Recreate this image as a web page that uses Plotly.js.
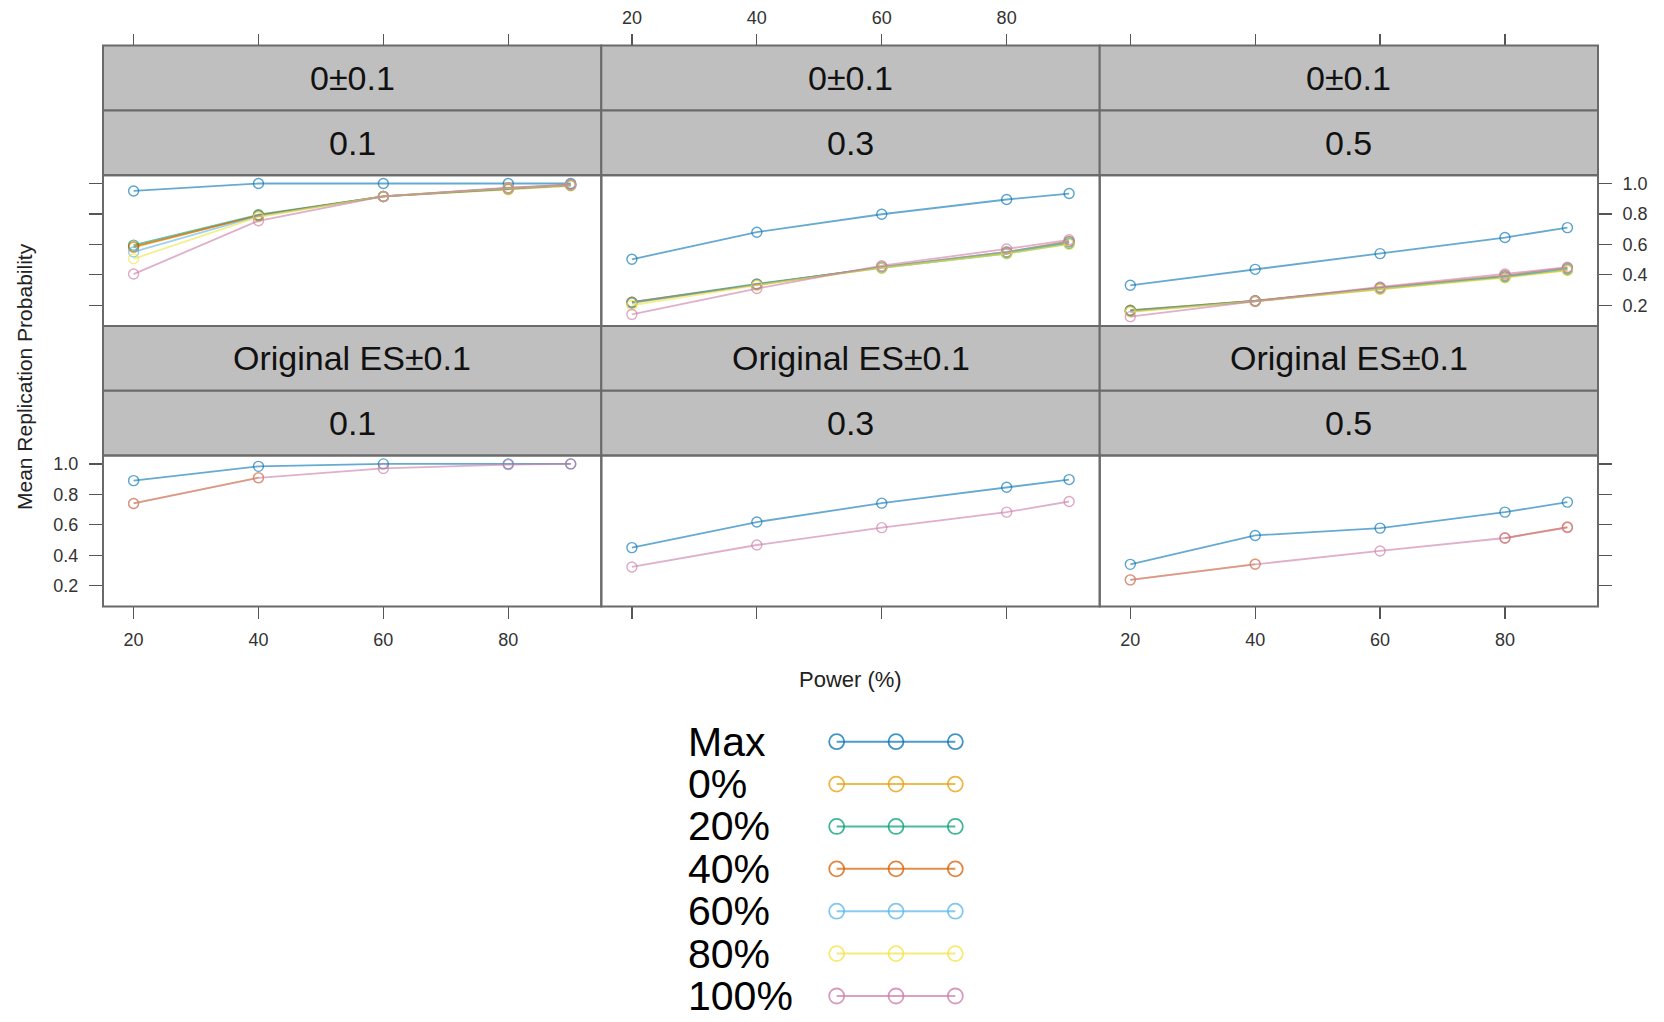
<!DOCTYPE html>
<html>
<head>
<meta charset="utf-8">
<script src="https://cdn.plot.ly/plotly-3.0.1.min.js"></script>
<style>html,body{margin:0;padding:0;background:#fff;}#chart{width:1664px;height:1022px;}</style>
</head>
<body>
<div id="chart"></div>
<script>
// ---------------- data ----------------
const power = [20, 40, 60, 80, 90];
const seriesNames = ['Max', '0%', '20%', '40%', '60%', '80%', '100%'];
const seriesColors = ['#0072B2', '#E69F00', '#009E73', '#D55E00', '#56B4E9', '#F0E442', '#CC79A7'];
const rowLabels = ['0\u00B10.1', 'Original ES\u00B10.1'];
const colLabels = ['0.1', '0.3', '0.5'];
const xTickVals = [20, 40, 60, 80];
const xTickText = ['20', '40', '60', '80'];
const yTickVals = [0.2, 0.4, 0.6, 0.8, 1.0];
const yTickText = ['0.2', '0.4', '0.6', '0.8', '1.0'];
const legendKeyX = [0, 1, 2];

// rows: Max, 0%, 20%, 40%, 60%, 80%, 100%  (null = not visible in the picture)
const zero_01 = [
  [0.951, 1.000, 1.000, 1.000, 1.000],
  [0.580, 0.790, 0.915, 0.960, 0.985],
  [0.595, 0.795, 0.915, 0.967, 0.990],
  [0.585, 0.790, 0.915, 0.970, 0.992],
  [0.550, 0.785, 0.915, 0.970, 0.990],
  [0.505, 0.780, 0.915, 0.970, 0.990],
  [0.405, 0.755, 0.915, 0.972, 0.992]
];
const zero_03 = [
  [0.502, 0.680, 0.798, 0.895, 0.934],
  [0.215, 0.335, 0.450, 0.545, 0.615],
  [0.220, 0.340, 0.445, 0.540, 0.605],
  [0.220, 0.337, 0.450, 0.550, 0.620],
  [0.215, 0.335, 0.450, 0.550, 0.615],
  [0.200, 0.330, 0.445, 0.540, 0.600],
  [0.140, 0.310, 0.460, 0.570, 0.630]
];
const zero_05 = [
  [0.331, 0.436, 0.539, 0.645, 0.710],
  [0.160, 0.228, 0.305, 0.385, 0.430],
  [0.167, 0.228, 0.310, 0.385, 0.435],
  [0.165, 0.230, 0.315, 0.395, 0.445],
  [0.160, 0.228, 0.310, 0.390, 0.440],
  [0.155, 0.225, 0.305, 0.380, 0.430],
  [0.125, 0.225, 0.320, 0.405, 0.450]
];
const orig_01 = [
  [0.890, 0.984, 1.000, 1.000, 1.000],
  [0.740, 0.910, null, null, null],
  [null, null, null, null, null],
  [null, null, null, null, null],
  [null, null, null, null, null],
  [null, null, null, null, null],
  [0.740, 0.908, 0.970, 0.995, 1.000]
];
const orig_03 = [
  [0.450, 0.618, 0.742, 0.847, 0.897],
  [null, null, null, null, null],
  [null, null, null, null, null],
  [null, null, null, null, null],
  [null, null, null, null, null],
  [null, null, null, null, null],
  [0.323, 0.467, 0.581, 0.683, 0.753]
];
const orig_05 = [
  [0.340, 0.530, 0.578, 0.683, 0.749],
  [0.238, 0.342, null, null, null],
  [null, null, null, null, null],
  [null, null, null, 0.513, 0.585],
  [null, null, null, null, null],
  [null, null, null, null, null],
  [0.238, 0.340, 0.428, 0.513, 0.581]
];
const panels = [zero_01, zero_03, zero_05, orig_01, orig_03, orig_05];

// ---------------- geometry (pixels) ----------------
const W = 1664, H = 1022;
const px = p => p / W;
const py = p => 1 - p / H;
const colX = [103, 601.3, 1099.7, 1598];
const T = 45.6, S = 64.8, P = 150.8;
const FONT = 'Liberation Sans, Arial, Helvetica, sans-serif';
const AXC = '#555555';
const BORDER = '#6a6a6a';

function rgba(hex, a) {
  const n = parseInt(hex.slice(1), 16);
  return 'rgba(' + ((n >> 16) & 255) + ',' + ((n >> 8) & 255) + ',' + (n & 255) + ',' + a + ')';
}

const traces = [];
const layout = {
  width: W, height: H,
  margin: {l: 0, r: 0, t: 0, b: 0, pad: 0},
  paper_bgcolor: '#ffffff', plot_bgcolor: 'rgba(0,0,0,0)',
  showlegend: false,
  font: {family: FONT, color: '#333333', size: 18},
  shapes: [], annotations: []
};

panels.forEach((data, i) => {
  const r = Math.floor(i / 3), c = i % 3, k = i + 1;
  const top = T + r * (2 * S + P);
  const pTop = top + 2 * S, pBot = pTop + P;
  const xa = {
    domain: [px(colX[c]), px(colX[c + 1])],
    range: [15.1, 94.9],
    tickvals: xTickVals, ticktext: xTickText,
    ticks: 'outside', ticklen: 12, tickwidth: 1.3, tickcolor: AXC,
    showgrid: false, zeroline: false, showline: false, fixedrange: true,
    tickfont: {family: FONT, size: 18, color: '#333333'}
  };
  if (r === 0) {
    Object.assign(xa, {side: 'top', anchor: 'free', position: py(T),
      showticklabels: c === 1, ticklabelstandoff: 2});
  } else {
    Object.assign(xa, {side: 'bottom', anchor: 'y' + k,
      showticklabels: c !== 1, ticklabelstandoff: 5});
  }
  const ya = {
    domain: [py(pBot), py(pTop)],
    range: [0.0636, 1.0546],
    anchor: 'x' + k,
    tickvals: yTickVals, ticktext: yTickText,
    showgrid: false, zeroline: false, showline: false, fixedrange: true,
    tickfont: {family: FONT, size: 18, color: '#333333'}
  };
  if (c === 0) {
    Object.assign(ya, {side: 'left', ticks: 'outside', ticklen: 13, tickwidth: 1.3,
      tickcolor: AXC, showticklabels: r === 1, ticklabelstandoff: 7});
  } else if (c === 2) {
    Object.assign(ya, {side: 'right', ticks: 'outside', ticklen: 13, tickwidth: 1.3,
      tickcolor: AXC, showticklabels: r === 0, ticklabelstandoff: 7});
  } else {
    Object.assign(ya, {ticks: '', showticklabels: false});
  }
  layout['xaxis' + k] = xa;
  layout['yaxis' + k] = ya;

  // strips
  [[top, top + S, rowLabels[r]], [top + S, top + 2 * S, colLabels[c]]].forEach(st => {
    layout.shapes.push({type: 'rect', xref: 'paper', yref: 'paper',
      x0: px(colX[c]), x1: px(colX[c + 1]), y0: py(st[1]), y1: py(st[0]),
      fillcolor: '#bfbfbf', line: {color: BORDER, width: 2}, layer: 'above'});
    layout.annotations.push({xref: 'paper', yref: 'paper',
      x: px((colX[c] + colX[c + 1]) / 2), y: py((st[0] + st[1]) / 2),
      xanchor: 'center', yanchor: 'middle', showarrow: false, text: st[2],
      font: {family: FONT, size: 34, color: '#111111'}});
  });
  // panel border
  layout.shapes.push({type: 'rect', xref: 'paper', yref: 'paper',
    x0: px(colX[c]), x1: px(colX[c + 1]), y0: py(pBot), y1: py(pTop),
    fillcolor: 'rgba(0,0,0,0)', line: {color: BORDER, width: 2}, layer: 'above'});

  data.forEach((vals, s) => {
    if (vals.every(v => v === null)) return;
    traces.push({
      type: 'scatter', mode: 'lines+markers', name: seriesNames[s],
      x: power, y: vals, xaxis: 'x' + k, yaxis: 'y' + k,
      line: {color: rgba(seriesColors[s], 0.6), width: 1.8},
      marker: {symbol: 'circle-open', size: 10,
        color: rgba(seriesColors[s], 0.65), line: {width: 1.4, color: rgba(seriesColors[s], 0.65)}},
      cliponaxis: false, hoverinfo: 'name+x+y'
    });
  });
});

// ---------------- key (legend) ----------------
const keyTop = 741.7, keyStep = 42.38;
layout.xaxis7 = {domain: [px(826), px(966)], range: [-0.18, 2.18], visible: false, fixedrange: true, anchor: 'y7'};
layout.yaxis7 = {domain: [py(keyTop + 6.5 * keyStep), py(keyTop - 0.5 * keyStep)],
  range: [6.5, -0.5], visible: false, fixedrange: true, anchor: 'x7'};
seriesNames.forEach((nm, s) => {
  traces.push({
    type: 'scatter', mode: 'lines+markers', name: nm,
    x: legendKeyX, y: legendKeyX.map(() => s), xaxis: 'x7', yaxis: 'y7',
    line: {color: rgba(seriesColors[s], 0.7), width: 2},
    marker: {symbol: 'circle-open', size: 15, color: rgba(seriesColors[s], 0.75),
      line: {width: 1.8, color: rgba(seriesColors[s], 0.75)}},
    cliponaxis: false, hoverinfo: 'name'
  });
  layout.annotations.push({xref: 'paper', yref: 'paper',
    x: px(686), y: py(keyTop + s * keyStep), xanchor: 'left', yanchor: 'middle',
    showarrow: false, text: nm, font: {family: FONT, size: 41, color: '#000000'}});
});

// ---------------- axis titles ----------------
layout.annotations.push({xref: 'paper', yref: 'paper', x: px(25), y: py(377),
  xanchor: 'center', yanchor: 'middle', textangle: -90, showarrow: false,
  text: 'Mean Replication Probability', font: {family: FONT, size: 21, color: '#222222'}});
layout.annotations.push({xref: 'paper', yref: 'paper', x: px(850), y: py(679),
  xanchor: 'center', yanchor: 'middle', showarrow: false,
  text: 'Power (%)', font: {family: FONT, size: 22, color: '#222222'}});

Plotly.newPlot('chart', traces, layout, {displayModeBar: false, staticPlot: true});
</script>
</body>
</html>
